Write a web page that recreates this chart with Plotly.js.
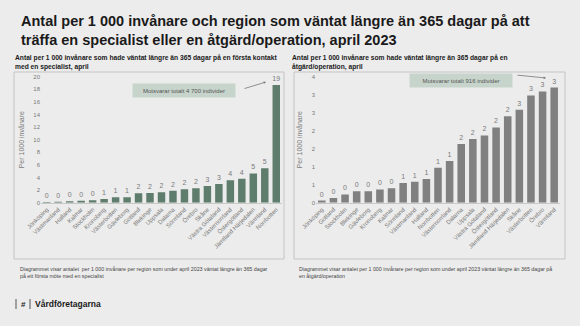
<!DOCTYPE html>
<html>
<head>
<meta charset="utf-8">
<script src="https://cdn.plot.ly/plotly-3.0.1.min.js"></script>
<style>html,body{margin:0;padding:0;background:#ececec;}#chart{width:580px;height:326px;}</style>
</head>
<body>
<div id="chart"></div>
<script>
// ---- Data ----
const leftCategories = ["Jönköping","Västmanland","Halland","Kalmar","Stockholm","Kronoberg","Västerbotten","Gävleborg","Gotland","Blekinge","Uppsala","Dalarna","Sörmland","Örebro","Skåne","Västra Götaland","Västernorrland","Östergötland","Jämtland Härjedalen","Värmland","Norrbotten"];
const leftValues = [0.1,0.15,0.25,0.3,0.4,0.6,0.85,0.85,1.5,1.55,1.65,1.9,2.15,2.3,2.65,2.95,3.55,3.8,4.65,5.45,18.7];

const rightCategories = ["Jönköping","Gotland","Stockholm","Blekinge","Gävleborg","Kronoberg","Kalmar","Sörmland","Västmanland","Halland","Norrbotten","Västernorrland","Dalarna","Uppsala","Västra Götaland","Östergötland","Jämtland Härjedalen","Skåne","Västerbotten","Örebro","Värmland"];
const rightValues = [0.06,0.13,0.23,0.32,0.32,0.37,0.4,0.55,0.58,0.66,0.97,1.16,1.63,1.77,1.87,2.09,2.4,2.58,2.98,3.09,3.2];

const leftTickVals = [0,2,4,6,8,10,12,14,16,18,20];
const rightTickVals = [0,0.5,1,1.5,2,2.5,3,3.5];
const rightTickText = ["0","1","1","2","2","3","3","4"];

const mainTitle = "Antal per 1 000 invånare och region som väntat längre än 365 dagar på att<br>träffa en specialist eller en åtgärd/operation, april 2023";
const leftSubtitle = "Antal per 1 000 invånare som hade väntat längre än 365 dagar på en första kontakt<br>med en specialist, april";
const rightSubtitle = "Antal per 1 000 invånare som hade väntat längre än 365 dagar på en<br>åtgärd/operation, april";
const leftNote = "Diagrammet visar antalet  per 1 000 invånare per region som under april 2023 väntat längre än 365 dagar<br>på ett första möte med en specialist";
const rightNote = "Diagrammet visar antalet per 1 000 invånare per region som under april 2023 väntat längre än 365 dagar på<br>en åtgärd/operation";
const leftCallout = "Motsvarar totalt 4 700 individer";
const rightCallout = "Motsvarar totalt 916 individer";
const yTitle = "Per 1000 invånare";
const brand = "Vårdföretagarna";

// ---- Layout helpers ----
const W = 580, H = 326;
const px = x => x / W;
const py = y => 1 - y / H;
const FONT = "Liberation Sans, Arial, sans-serif";

const traces = [
  {type:"bar", x:leftCategories, y:leftValues, xaxis:"x", yaxis:"y",
   marker:{color:"#5f7d6d"}, texttemplate:"%{y:.0f}", textposition:"outside",
   constraintext:"none", cliponaxis:false, textfont:{size:7, color:"#7a7a7a", family:FONT},
   hoverinfo:"x+y"},
  {type:"bar", x:rightCategories, y:rightValues, xaxis:"x2", yaxis:"y2",
   marker:{color:"#808080"}, texttemplate:"%{y:.0f}", textposition:"outside",
   constraintext:"none", cliponaxis:false, textfont:{size:7, color:"#7a7a7a", family:FONT},
   hoverinfo:"x+y"}
];

const axisCommon = {
  showgrid:false, zeroline:false, fixedrange:true,
  tickfont:{size:6, color:"#7a7a7a", family:FONT}
};

const layout = {
  width:W, height:H,
  margin:{l:0,r:0,t:0,b:0},
  paper_bgcolor:"#ececec", plot_bgcolor:"rgba(0,0,0,0)",
  showlegend:false, bargap:0.35,
  font:{family:FONT},
  xaxis: Object.assign({}, axisCommon, {domain:[px(41), px(282)], anchor:"y",
    tickangle:-45, showline:true, linecolor:"#c8c8c8", linewidth:1, ticks:""}),
  yaxis: Object.assign({}, axisCommon, {domain:[py(202.7), py(76.7)], anchor:"x",
    range:[0,20], tickvals:leftTickVals, showline:false, ticks:"",
    title:{text:yTitle, font:{size:7, color:"#7a7a7a", family:FONT}, standoff:7}}),
  xaxis2: Object.assign({}, axisCommon, {domain:[px(316), px(560)], anchor:"y2",
    tickangle:-45, showline:true, linecolor:"#c8c8c8", linewidth:1, ticks:""}),
  yaxis2: Object.assign({}, axisCommon, {domain:[py(202.7), py(76.7)], anchor:"x2",
    range:[0,3.5], tickvals:rightTickVals, ticktext:rightTickText, showline:false, ticks:"",
    title:{text:yTitle, font:{size:7, color:"#7a7a7a", family:FONT}, standoff:8}}),
  shapes:[
    {type:"rect", xref:"paper", yref:"paper", x0:px(14), x1:px(284), y0:py(259), y1:py(72),
     line:{color:"#c4c4c4", width:1}, fillcolor:"rgba(0,0,0,0)", layer:"below"},
    {type:"rect", xref:"paper", yref:"paper", x0:px(294), x1:px(565), y0:py(259), y1:py(72),
     line:{color:"#c4c4c4", width:1}, fillcolor:"rgba(0,0,0,0)", layer:"below"},
    {type:"line", xref:"paper", yref:"paper", x0:px(16), x1:px(16), y0:py(299), y1:py(309),
     line:{color:"#555", width:1}},
    {type:"line", xref:"paper", yref:"paper", x0:px(30), x1:px(30), y0:py(299), y1:py(309),
     line:{color:"#555", width:1}}
  ],
  annotations:[
    {text:mainTitle, xref:"paper", yref:"paper", x:px(19), y:py(11), xanchor:"left", yanchor:"top",
     align:"left", showarrow:false, font:{size:14.5, color:"#1a1a1a", family:FONT, weight:"bold"}},
    {text:leftSubtitle, xref:"paper", yref:"paper", x:px(13), y:py(52), xanchor:"left", yanchor:"top",
     align:"left", showarrow:false, font:{size:6.7, color:"#1a1a1a", family:FONT, weight:"bold"}},
    {text:rightSubtitle, xref:"paper", yref:"paper", x:px(290), y:py(52), xanchor:"left", yanchor:"top",
     align:"left", showarrow:false, font:{size:6.7, color:"#1a1a1a", family:FONT, weight:"bold"}},
    {text:leftCallout, xref:"paper", yref:"paper", x:px(184), y:py(90.5), xanchor:"center", yanchor:"middle",
     showarrow:false, bgcolor:"#c7d4cb", borderpad:3.5, width:95,
     font:{size:6, color:"#555", family:FONT}},
    {xref:"paper", yref:"paper", x:px(266), y:py(82), ax:px(243), ay:py(89), axref:"paper", ayref:"paper",
     showarrow:true, arrowhead:2, arrowsize:0.6, arrowwidth:0.8, arrowcolor:"#777", text:""},
    {text:rightCallout, xref:"paper", yref:"paper", x:px(461), y:py(80.5), xanchor:"center", yanchor:"middle",
     showarrow:false, bgcolor:"#c7d4cb", borderpad:3.5, width:95,
     font:{size:6, color:"#555", family:FONT}},
    {xref:"paper", yref:"paper", x:px(546), y:py(78), ax:px(516), ay:py(75), axref:"paper", ayref:"paper",
     showarrow:true, arrowhead:2, arrowsize:0.6, arrowwidth:0.8, arrowcolor:"#777", text:""},
    {text:leftNote, xref:"paper", yref:"paper", x:px(18), y:py(264), xanchor:"left", yanchor:"top",
     align:"left", showarrow:false, font:{size:5.3, color:"#444", family:FONT}},
    {text:rightNote, xref:"paper", yref:"paper", x:px(297), y:py(264), xanchor:"left", yanchor:"top",
     align:"left", showarrow:false, font:{size:5.3, color:"#444", family:FONT}},
    {text:"#", xref:"paper", yref:"paper", x:px(23), y:py(304), xanchor:"center", yanchor:"middle",
     showarrow:false, font:{size:8, color:"#222", family:FONT, weight:"bold"}},
    {text:brand, xref:"paper", yref:"paper", x:px(33), y:py(304), xanchor:"left", yanchor:"middle",
     showarrow:false, font:{size:8.5, color:"#1a1a1a", family:FONT, weight:"bold"}}
  ]
};

Plotly.newPlot("chart", traces, layout, {displayModeBar:false, staticPlot:true});
</script>
</body>
</html>
